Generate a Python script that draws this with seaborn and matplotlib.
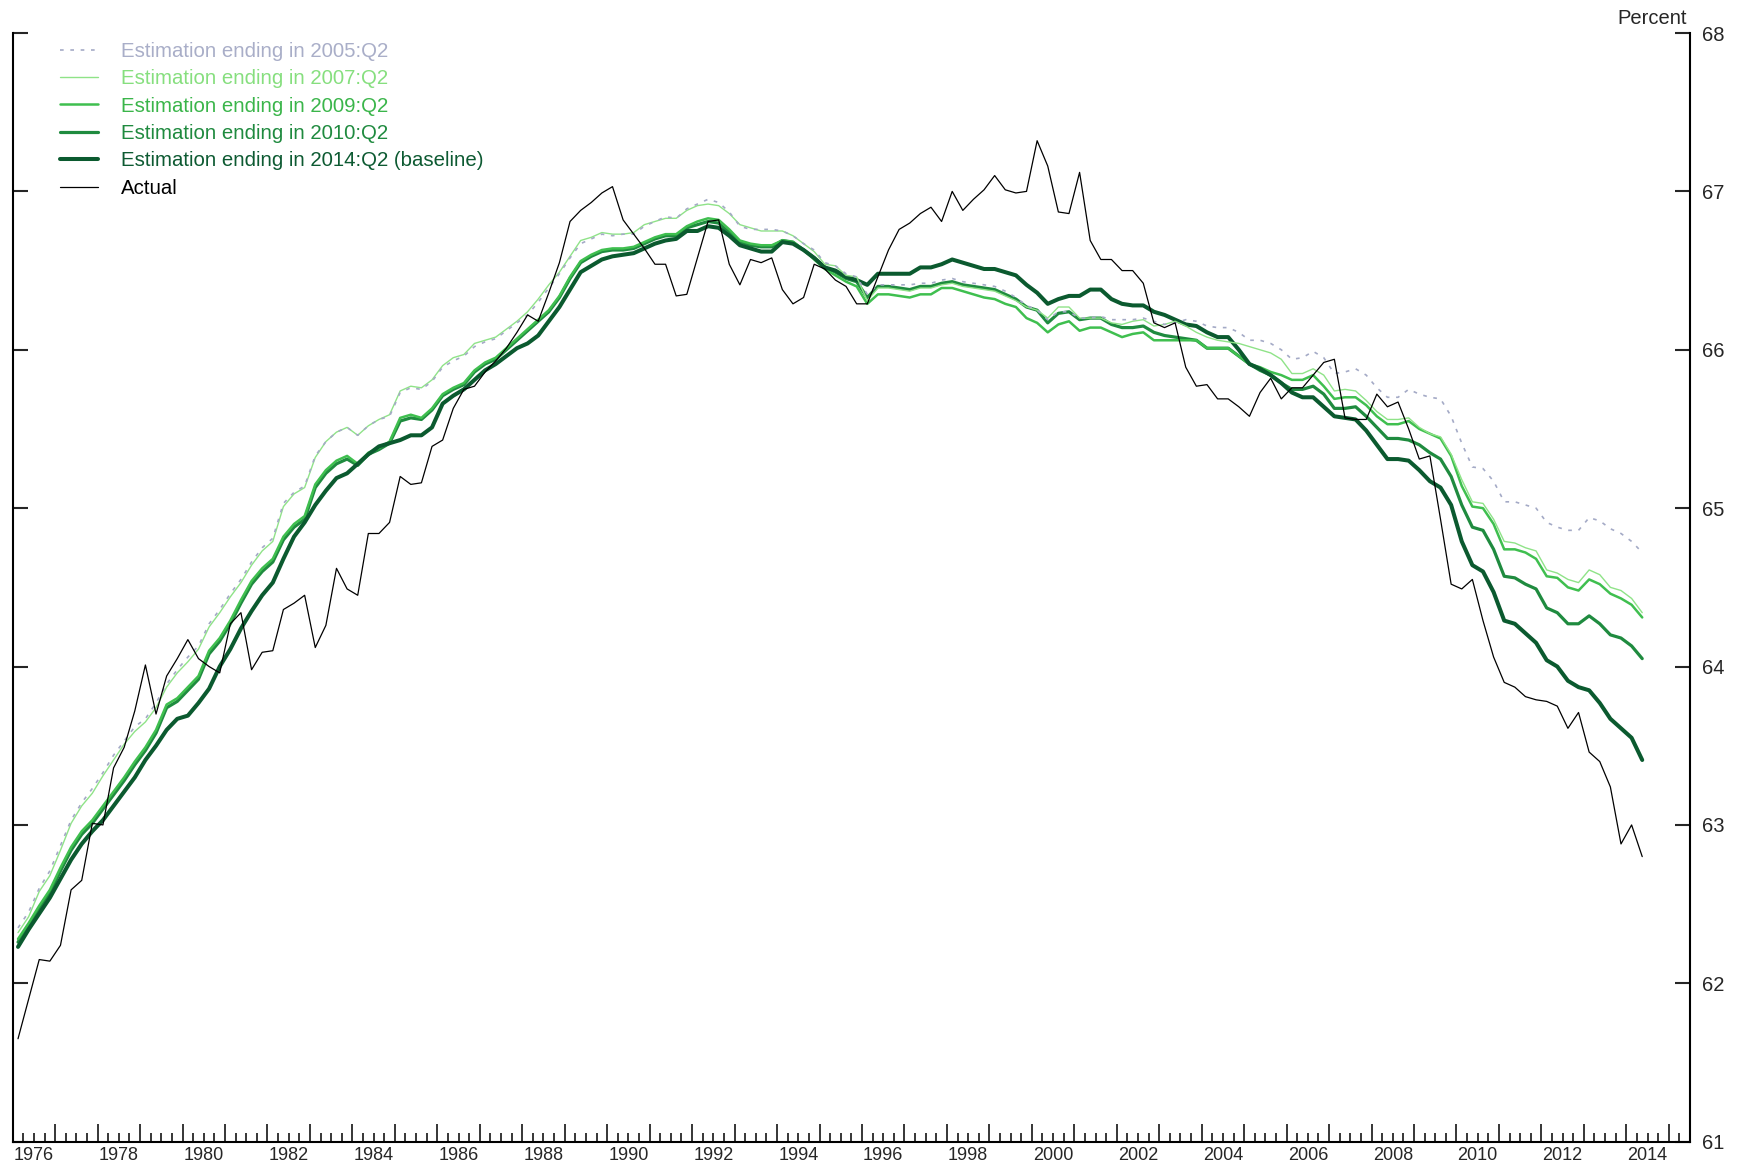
import matplotlib
matplotlib.use("Agg")
import matplotlib.pyplot as plt
from matplotlib.ticker import FixedLocator, FuncFormatter, NullFormatter
import pandas as pd
import seaborn as sns

# Quarterly sample 1976:Q1 - 2014:Q2
quarters = [f"{y}:Q{q}" for y in range(1976, 2015) for q in range(1, 5)][:154]

actual = [
    61.65, 61.90, 62.15, 62.14, 62.24, 62.59, 62.65, 63.01, 63.00, 63.36,
    63.49, 63.72, 64.01, 63.70, 63.94, 64.05, 64.17, 64.05, 64.00, 63.96,
    64.27, 64.34, 63.98, 64.09, 64.10, 64.36, 64.40, 64.45, 64.12, 64.26,
    64.62, 64.49, 64.45, 64.84, 64.84, 64.91, 65.20, 65.15, 65.16, 65.39,
    65.43, 65.63, 65.75, 65.77, 65.86, 65.93, 66.01, 66.11, 66.22, 66.18,
    66.36, 66.55, 66.81, 66.88, 66.93, 66.99, 67.03, 66.82, 66.73, 66.64,
    66.54, 66.54, 66.34, 66.35, 66.58, 66.81, 66.82, 66.54, 66.41, 66.57,
    66.55, 66.58, 66.38, 66.29, 66.33, 66.54, 66.51, 66.44, 66.40, 66.29,
    66.29, 66.46, 66.63, 66.76, 66.80, 66.86, 66.90, 66.81, 67.00, 66.88,
    66.95, 67.01, 67.10, 67.01, 66.99, 67.00, 67.32, 67.16, 66.87, 66.86,
    67.12, 66.69, 66.57, 66.57, 66.50, 66.50, 66.42, 66.17, 66.14, 66.17,
    65.89, 65.77, 65.78, 65.69, 65.69, 65.64, 65.58, 65.73, 65.82, 65.69,
    65.76, 65.76, 65.84, 65.92, 65.94, 65.57, 65.56, 65.56, 65.72, 65.64,
    65.67, 65.50, 65.31, 65.33, 64.93, 64.52, 64.49, 64.55, 64.29, 64.06,
    63.90, 63.87, 63.81, 63.79, 63.78, 63.75, 63.61, 63.71, 63.46, 63.40,
    63.24, 62.88, 63.00, 62.80,
]

est_2014 = [
    62.23, 62.34, 62.44, 62.54, 62.66, 62.78, 62.88, 62.96, 63.03, 63.12,
    63.21, 63.30, 63.41, 63.50, 63.60, 63.67, 63.69, 63.77, 63.86, 64.00,
    64.11, 64.24, 64.35, 64.45, 64.53, 64.68, 64.82, 64.91, 65.02, 65.11,
    65.19, 65.22, 65.28, 65.34, 65.39, 65.41, 65.43, 65.46, 65.46, 65.51,
    65.66, 65.71, 65.75, 65.81, 65.87, 65.91, 65.96, 66.01, 66.04, 66.09,
    66.18, 66.27, 66.38, 66.49, 66.53, 66.57, 66.59, 66.60, 66.61, 66.64,
    66.67, 66.69, 66.70, 66.75, 66.75, 66.78, 66.77, 66.72, 66.66, 66.64,
    66.62, 66.62, 66.68, 66.67, 66.63, 66.58, 66.52, 66.50, 66.46, 66.44,
    66.41, 66.48, 66.48, 66.48, 66.48, 66.52, 66.52, 66.54, 66.57, 66.55,
    66.53, 66.51, 66.51, 66.49, 66.47, 66.41, 66.36, 66.29, 66.32, 66.34,
    66.34, 66.38, 66.38, 66.32, 66.29, 66.28, 66.28, 66.24, 66.22, 66.19,
    66.16, 66.15, 66.11, 66.08, 66.08, 66.00, 65.91, 65.88, 65.84, 65.79,
    65.73, 65.70, 65.70, 65.64, 65.58, 65.57, 65.56, 65.49, 65.40, 65.31,
    65.31, 65.30, 65.24, 65.17, 65.13, 65.02, 64.79, 64.64, 64.60, 64.47,
    64.29, 64.27, 64.21, 64.15, 64.04, 64.00, 63.91, 63.87, 63.85, 63.77,
    63.67, 63.61, 63.55, 63.41,
]

est_2010 = [
    62.26, 62.36, 62.47, 62.57, 62.71, 62.84, 62.94, 63.01, 63.10, 63.19,
    63.28, 63.38, 63.47, 63.58, 63.74, 63.78, 63.85, 63.92, 64.08, 64.16,
    64.27, 64.40, 64.52, 64.60, 64.66, 64.80, 64.88, 64.93, 65.13, 65.22,
    65.28, 65.31, 65.27, 65.34, 65.37, 65.41, 65.55, 65.57, 65.56, 65.62,
    65.71, 65.75, 65.78, 65.86, 65.91, 65.94, 66.00, 66.06, 66.12, 66.18,
    66.24, 66.33, 66.45, 66.55, 66.59, 66.62, 66.63, 66.63, 66.64, 66.67,
    66.70, 66.72, 66.72, 66.77, 66.79, 66.81, 66.80, 66.74, 66.68, 66.66,
    66.65, 66.65, 66.69, 66.68, 66.63, 66.58, 66.52, 66.49, 66.45, 66.43,
    66.33, 66.40, 66.40, 66.39, 66.38, 66.40, 66.40, 66.42, 66.43, 66.41,
    66.40, 66.39, 66.38, 66.35, 66.32, 66.27, 66.25, 66.17, 66.23, 66.24,
    66.19, 66.20, 66.20, 66.16, 66.14, 66.14, 66.15, 66.11, 66.09, 66.08,
    66.07, 66.06, 66.01, 66.01, 66.01, 65.96, 65.91, 65.87, 65.84, 65.79,
    65.75, 65.75, 65.77, 65.72, 65.63, 65.63, 65.64, 65.58, 65.51, 65.44,
    65.44, 65.43, 65.40, 65.35, 65.31, 65.20, 65.02, 64.88, 64.86, 64.74,
    64.57, 64.56, 64.52, 64.49, 64.37, 64.34, 64.27, 64.27, 64.32, 64.27,
    64.20, 64.18, 64.13, 64.05,
]

est_2009 = [
    62.28, 62.38, 62.49, 62.59, 62.73, 62.86, 62.96, 63.03, 63.12, 63.21,
    63.30, 63.40, 63.49, 63.60, 63.76, 63.80, 63.87, 63.94, 64.10, 64.18,
    64.29, 64.42, 64.54, 64.62, 64.68, 64.82, 64.90, 64.95, 65.15, 65.24,
    65.30, 65.33, 65.28, 65.35, 65.38, 65.42, 65.57, 65.59, 65.57, 65.63,
    65.72, 65.76, 65.79, 65.87, 65.92, 65.95, 66.01, 66.07, 66.13, 66.19,
    66.25, 66.34, 66.46, 66.56, 66.60, 66.63, 66.64, 66.64, 66.65, 66.68,
    66.71, 66.73, 66.73, 66.78, 66.81, 66.83, 66.82, 66.76, 66.69, 66.67,
    66.66, 66.66, 66.69, 66.68, 66.63, 66.57, 66.51, 66.47, 66.43, 66.40,
    66.29, 66.35, 66.35, 66.34, 66.33, 66.35, 66.35, 66.39, 66.39, 66.37,
    66.35, 66.33, 66.32, 66.29, 66.27, 66.20, 66.17, 66.11, 66.16, 66.18,
    66.12, 66.14, 66.14, 66.11, 66.08, 66.10, 66.11, 66.06, 66.06, 66.06,
    66.06, 66.06, 66.01, 66.01, 66.01, 65.96, 65.91, 65.89, 65.86, 65.84,
    65.81, 65.81, 65.84, 65.77, 65.69, 65.70, 65.70, 65.65, 65.58, 65.53,
    65.53, 65.55, 65.50, 65.47, 65.44, 65.33, 65.14, 65.01, 65.00, 64.90,
    64.74, 64.74, 64.72, 64.68, 64.57, 64.56, 64.50, 64.48, 64.55, 64.52,
    64.46, 64.43, 64.39, 64.31,
]

est_2007 = [
    62.32, 62.42, 62.58, 62.68, 62.84, 63.01, 63.12, 63.20, 63.31, 63.41,
    63.51, 63.59, 63.65, 63.74, 63.87, 63.96, 64.03, 64.11, 64.25, 64.34,
    64.44, 64.53, 64.64, 64.73, 64.79, 65.01, 65.09, 65.13, 65.32, 65.42,
    65.48, 65.51, 65.46, 65.52, 65.56, 65.59, 65.74, 65.77, 65.76, 65.81,
    65.90, 65.95, 65.97, 66.04, 66.06, 66.08, 66.13, 66.18, 66.24, 66.32,
    66.41, 66.49, 66.59, 66.69, 66.71, 66.74, 66.73, 66.73, 66.74, 66.79,
    66.81, 66.83, 66.83, 66.88, 66.91, 66.92, 66.91, 66.86, 66.79, 66.77,
    66.75, 66.75, 66.75, 66.72, 66.67, 66.62, 66.54, 66.53, 66.47, 66.46,
    66.31, 66.39, 66.39, 66.38, 66.37, 66.39, 66.39, 66.41, 66.42, 66.40,
    66.39, 66.38, 66.37, 66.34, 66.31, 66.27, 66.25, 66.20, 66.27, 66.27,
    66.20, 66.20, 66.20, 66.17, 66.16, 66.18, 66.19, 66.15, 66.16, 66.18,
    66.15, 66.11, 66.08, 66.06, 66.05, 66.04, 66.02, 66.00, 65.98, 65.94,
    65.85, 65.85, 65.88, 65.84, 65.74, 65.75, 65.74, 65.68, 65.61, 65.56,
    65.56, 65.57, 65.51, 65.47, 65.45, 65.34, 65.18, 65.04, 65.03, 64.93,
    64.79, 64.78, 64.75, 64.73, 64.61, 64.59, 64.55, 64.53, 64.61, 64.58,
    64.50, 64.48, 64.43, 64.34,
]

est_2005 = [
    62.35, 62.45, 62.60, 62.71, 62.87, 63.03, 63.14, 63.23, 63.33, 63.44,
    63.53, 63.62, 63.67, 63.77, 63.89, 63.98, 64.06, 64.13, 64.27, 64.36,
    64.46, 64.55, 64.66, 64.75, 64.81, 65.03, 65.10, 65.14, 65.33, 65.42,
    65.48, 65.51, 65.46, 65.52, 65.56, 65.58, 65.73, 65.76, 65.75, 65.80,
    65.89, 65.93, 65.96, 66.02, 66.05, 66.07, 66.12, 66.17, 66.22, 66.30,
    66.39, 66.48, 66.58, 66.67, 66.70, 66.73, 66.72, 66.73, 66.73, 66.78,
    66.81, 66.84, 66.83, 66.89, 66.92, 66.95, 66.93, 66.87, 66.78, 66.76,
    66.76, 66.76, 66.75, 66.72, 66.67, 66.63, 66.55, 66.53, 66.48, 66.46,
    66.35, 66.41, 66.41, 66.41, 66.41, 66.42, 66.42, 66.44, 66.45, 66.43,
    66.42, 66.41, 66.40, 66.37, 66.33, 66.28, 66.25, 66.19, 66.24, 66.24,
    66.20, 66.20, 66.21, 66.19, 66.19, 66.19, 66.20, 66.18, 66.16, 66.17,
    66.19, 66.18, 66.15, 66.14, 66.14, 66.11, 66.06, 66.06, 66.04, 66.00,
    65.94, 65.95, 65.99, 65.95, 65.85, 65.86, 65.88, 65.84, 65.76, 65.70,
    65.70, 65.75, 65.72, 65.70, 65.69, 65.58, 65.41, 65.26, 65.25, 65.17,
    65.04, 65.04, 65.02, 65.00, 64.91, 64.88, 64.86, 64.86, 64.94, 64.92,
    64.87, 64.84, 64.79, 64.72,
]

# Convert "YYYY:Qn" into a mid-quarter decimal date
def quarter_to_time(label):
    year, q = label.split(":Q")
    return int(year) + (int(q) - 0.5) / 4.0


df = pd.DataFrame({
    "t": [quarter_to_time(q) for q in quarters],
    "est_2005": est_2005,
    "est_2007": est_2007,
    "est_2009": est_2009,
    "est_2010": est_2010,
    "est_2014": est_2014,
    "actual": actual,
})

# column, legend label, line colour, text colour, width, dash pattern
series = {
    "est_2005": ("Estimation ending in 2005:Q2", "#a4aac6", "#a9aec8", 1.2, (0, (2.2, 4.0))),
    "est_2007": ("Estimation ending in 2007:Q2", "#8fe388", "#86df7e", 1.0, "-"),
    "est_2009": ("Estimation ending in 2009:Q2", "#3fbf4f", "#3ab54a", 1.8, "-"),
    "est_2010": ("Estimation ending in 2010:Q2", "#1f8b3f", "#1f8a3f", 2.3, "-"),
    "est_2014": ("Estimation ending in 2014:Q2 (baseline)", "#0b5a2f", "#0d5a32", 2.9, "-"),
    "actual": ("Actual", "#000000", "#000000", 0.9, "-"),
}
legend_order = ["est_2005", "est_2007", "est_2009", "est_2010", "est_2014", "actual"]
draw_order = ["est_2010", "est_2009", "est_2014", "est_2007", "est_2005", "actual"]

sns.set_style("ticks")
plt.rcParams["font.family"] = ["Liberation Sans", "DejaVu Sans"]

fig = plt.figure(figsize=(17.43, 11.67), dpi=100)
ax = fig.add_axes([0.00729, 0.02168, 0.9623, 0.95004])

handles = {}
for col in draw_order:
    label, color, _, lw, ls = series[col]
    sns.lineplot(data=df, x="t", y=col, ax=ax, color=color, linewidth=lw,
                 linestyle=ls, label=label, legend=False)
    handles[col] = ax.lines[-1]

ax.set_xlabel("")
ax.set_ylabel("")
ax.set_xlim(1976, 2015.5)
ax.set_ylim(61, 68)

# x axis: tall ticks at years, short ticks at quarters, labels mid-year
ax.xaxis.set_major_locator(FixedLocator(list(range(1976, 2016))))
ax.xaxis.set_major_formatter(NullFormatter())
minor_pos = [y + k / 4 for y in range(1976, 2016) for k in (1, 2, 3)]
minor_pos = [p for p in minor_pos if p <= 2015.25]
ax.xaxis.set_minor_locator(FixedLocator(minor_pos))


def mid_year_label(v, pos):
    yr = v - 0.5
    if abs(yr - round(yr)) < 1e-6 and int(round(yr)) % 2 == 0 and v < 2015:
        return str(int(round(yr)))
    return ""


ax.xaxis.set_minor_formatter(FuncFormatter(mid_year_label))
ax.tick_params(axis="x", which="major", direction="in", length=13, width=1.3,
               bottom=True, top=False)
ax.tick_params(axis="x", which="minor", direction="in", length=6.5, width=1.3,
               bottom=True, top=False, labelsize=13, pad=3.6)

# y axis: labels on the right, inward ticks on both spines
ax.yaxis.set_major_locator(FixedLocator(list(range(61, 69))))
ax.yaxis.set_minor_locator(FixedLocator([68]))
ax.yaxis.set_minor_formatter(NullFormatter())
ax.tick_params(axis="y", which="major", direction="in", length=10.8, width=1.5,
               left=True, right=True, labelleft=False, labelright=True,
               labelsize=14.5, pad=8.6)
ax.tick_params(axis="y", which="minor", direction="in", length=16.5, width=1.5,
               left=True, right=True)

ax.spines["top"].set_visible(False)
for side in ("left", "right", "bottom"):
    ax.spines[side].set_visible(True)
    ax.spines[side].set_linewidth(1.5)
    ax.spines[side].set_color("black")

ax.annotate("Percent", xy=(1, 1), xycoords="axes fraction", xytext=(-2, 6.3),
            textcoords="offset points", ha="right", va="baseline", fontsize=14.5)

leg = ax.legend([handles[c] for c in legend_order],
                [series[c][0] for c in legend_order],
                loc="upper left", bbox_to_anchor=(0.028, 0.992), frameon=False,
                fontsize=14.7, handlelength=1.9, handletextpad=1.1,
                labelspacing=0.41, borderpad=0, borderaxespad=0)
for text, col in zip(leg.get_texts(), legend_order):
    text.set_color(series[col][2])

fig.savefig("out.png", dpi=100)
